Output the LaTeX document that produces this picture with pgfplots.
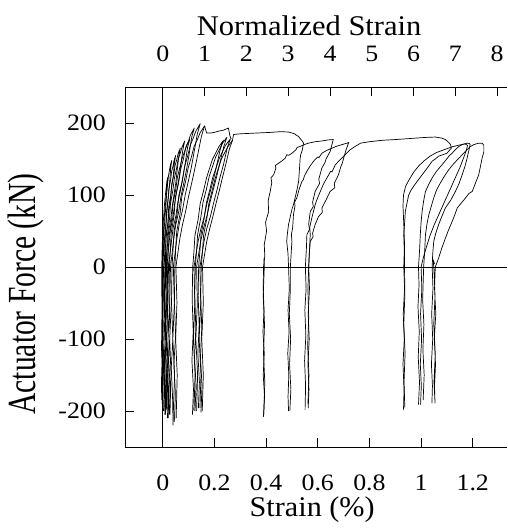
\documentclass[border=0pt]{standalone}
\usepackage{pgfplots}
\pgfplotsset{compat=1.18}
\usepackage{fontspec}
\setmainfont{Liberation Serif}
\pgfplotsset{ld/.style={black, line width=0.7pt, line join=round}}
\newcommand{\tfont}{\fontsize{23.5}{23.5}\selectfont}
\newcommand{\lfont}{\fontsize{28.5}{28.5}\selectfont}
\begin{document}
\begin{tikzpicture}
\path[use as bounding box] (-125pt,-82pt) rectangle (382pt,447pt);
\begin{axis}[
 scale only axis, width=382pt, height=360pt,
 xmin=-0.1461, xmax=1.3326, ymin=-250, ymax=250,
 axis x line*=bottom, axis y line*=left,
 every outer x axis line/.append style={-}, every outer y axis line/.append style={-},
 axis line style={line width=0.9pt, black},
 tick align=inside, major tick length=9pt, tick style={line width=0.9pt, black},
 xtick={0,0.2,0.4,0.6,0.8,1,1.2}, xticklabels={0,0.2,0.4,0.6,0.8,1,1.2},
 ytick={-200,-100,0,100,200}, yticklabels={-200,-100,0,100,200},
 xticklabel style={font=\tfont, anchor=base, inner sep=0pt, yshift=-43pt, xscale=1.1},
 yticklabel style={font=\tfont, anchor=east, inner sep=0pt, xshift=-19pt, xscale=1.1},
 xlabel={Strain (\%)}, ylabel={Actuator Force (kN)},
 xlabel style={font=\lfont, at={(axis description cs:0.49,-0.175)}, anchor=center, xscale=1.06},
 ylabel style={font=\fontsize{29.5}{29.5}\selectfont, at={(axis description cs:-0.259,0.425)}, anchor=center, yscale=1.35},
 clip=true,
]
\addplot[black, line width=0.8pt] coordinates {(-0.1461,0) (1.3326,0)};
\addplot[black, line width=0.8pt] coordinates {(0,-250) (0,250)};
% group A
\addplot[ld] coordinates {(-0.004,-185)(-0.001,-150)(-0.005,-110)(-0.002,-70)(-0.004,-30)(-0.004,0)(-0.002,31)(0.002,62)(0.007,88)(0.012,106)(0.016,119)(0.02,125)(0.018,116)(0.015,100)(0.010,75)(0.005,50)(0.0,25)(-0.003,0)(-0.001,-40)(-0.004,-80)(-0.002,-120)(-0.005,-160)(-0.004,-185)};
\addplot[ld] coordinates {(-0.002,-190)(0.001,-160)(-0.003,-120)(0.002,-80)(-0.001,-40)(0.0,0)(0.001,37)(0.007,74)(0.015,104)(0.022,126)(0.029,141)(0.035,148)(0.031,138)(0.027,118)(0.0195,89)(0.012,59)(0.005,30)(0.0,0)(0.002,-40)(-0.001,-90)(0.003,-140)(0.0,-190)};
\addplot[ld] coordinates {(0.003,-200)(0.006,-165)(0.002,-125)(0.007,-85)(0.004,-45)(0.003,0)(0.008,20)(0.007,39)(0.013,60)(0.015,78)(0.021,95)(0.024,109)(0.031,122)(0.034,132)(0.041,142)(0.043,147)(0.05,155)(0.045,144)(0.040,124)(0.034,110)(0.030,93)(0.023,75)(0.021,62)(0.013,45)(0.011,31)(0.005,0)(0.008,-50)(0.004,-100)(0.009,-150)(0.005,-200)};
\addplot[ld] coordinates {(0.008,-205)(0.011,-170)(0.006,-130)(0.012,-90)(0.008,-45)(0.009,0)(0.011,20)(0.013,41)(0.020,62)(0.023,83)(0.031,100)(0.035,116)(0.043,128)(0.047,140)(0.055,150)(0.059,157)(0.068,165)(0.062,153)(0.055,132)(0.051,118)(0.043,99)(0.036,82)(0.031,66)(0.023,50)(0.019,33)(0.011,0)(0.014,-50)(0.009,-100)(0.015,-155)(0.011,-205)};
\addplot[ld] coordinates {(0.012,-198)(0.016,-165)(0.011,-125)(0.017,-85)(0.013,-40)(0.013,0)(0.016,22)(0.018,44)(0.026,66)(0.030,88)(0.039,106)(0.045,123)(0.053,136)(0.059,149)(0.068,158)(0.074,166)(0.085,175)(0.078,163)(0.069,140)(0.063,123)(0.054,105)(0.046,88)(0.040,70)(0.030,52)(0.025,35)(0.016,0)(0.019,-50)(0.014,-100)(0.02,-150)(0.016,-198)};
\addplot[ld] coordinates {(0.018,-210)(0.022,-175)(0.016,-135)(0.021,-95)(0.017,-50)(0.019,0)(0.021,23)(0.025,45)(0.035,67)(0.040,89)(0.050,107)(0.057,125)(0.066,138)(0.075,151)(0.085,161)(0.092,169)(0.105,178)(0.096,166)(0.086,142)(0.078,125)(0.069,107)(0.058,89)(0.051,71)(0.040,54)(0.034,36)(0.022,0)(0.026,-55)(0.02,-105)(0.025,-160)(0.021,-210)};
\addplot[ld] coordinates {(0.025,-205)(0.029,-170)(0.023,-130)(0.028,-90)(0.024,-45)(0.026,0)(0.029,24)(0.033,48)(0.044,72)(0.049,97)(0.061,116)(0.069,135)(0.080,150)(0.088,164)(0.099,174)(0.107,183)(0.122,193)(0.112,180)(0.101,154)(0.092,135)(0.081,116)(0.070,97)(0.062,77)(0.050,58)(0.0425,39)(0.030,0)(0.033,-50)(0.027,-100)(0.032,-150)(0.028,-205)};
\addplot[ld] coordinates {(0.040,-220)(0.038,-180)(0.033,-140)(0.039,-100)(0.034,-50)(0.036,0)(0.040,25)(0.044,50)(0.056,75)(0.0625,100)(0.076,120)(0.0845,139)(0.097,155)(0.1065,169)(0.119,180)(0.1285,189)(0.145,199)(0.134,185)(0.121,159)(0.111,139)(0.099,119)(0.087,100)(0.077,80)(0.064,60)(0.055,40)(0.041,0)(0.045,-50)(0.039,-100)(0.046,-150)(0.042,-190)(0.045,-215)};
\addplot[ld] coordinates {(0.046,-212)(0.049,-175)(0.043,-135)(0.05,-95)(0.045,-50)(0.047,0)(0.050,25)(0.054,49)(0.067,74)(0.074,98)(0.088,118)(0.098,137)(0.111,153)(0.121,167)(0.134,177)(0.144,186)(0.162,196)(0.165,192)(0.17,186)(0.185,186)(0.2,187)(0.22,189)(0.235,190)(0.254,193)(0.258,186)(0.26,182)(0.265,178)};
\addplot[ld] coordinates {(0.162,196)(0.150,182)(0.136,157)(0.125,138)(0.113,118)(0.100,98)(0.089,78)(0.076,58)(0.066,39)(0.051,0)(0.055,-50)(0.05,-100)(0.056,-150)(0.052,-210)};
% group B
\addplot[ld] coordinates {(0.115,-205)(0.119,-170)(0.113,-130)(0.118,-90)(0.114,-45)(0.116,0)(0.121,22)(0.1246,44)(0.137,66)(0.145,88)(0.158,106)(0.169,123)(0.181,137)(0.193,150)(0.206,159)(0.217,167)(0.235,176)(0.223,164)(0.2086,141)(0.198,124)(0.1846,106)(0.171,88)(0.1606,70)(0.147,52)(0.1366,35)(0.121,0)(0.124,-50)(0.119,-100)(0.125,-150)(0.121,-200)};
\addplot[ld] coordinates {(0.125,-200)(0.129,-165)(0.123,-125)(0.128,-85)(0.124,-40)(0.126,0)(0.131,23)(0.135,45)(0.147,68)(0.156,90)(0.169,108)(0.180,126)(0.193,140)(0.205,153)(0.218,162)(0.2295,171)(0.248,180)(0.236,167)(0.221,144)(0.209,126)(0.196,108)(0.183,90)(0.172,72)(0.158,54)(0.147,36)(0.131,0)(0.134,-50)(0.128,-100)(0.135,-150)(0.131,-200)};
\addplot[ld] coordinates {(0.138,-196)(0.142,-160)(0.136,-120)(0.141,-80)(0.137,-40)(0.139,0)(0.144,23)(0.148,45)(0.160,67)(0.169,89)(0.182,107)(0.194,125)(0.207,138)(0.219,151)(0.231,160)(0.243,169)(0.262,178)(0.25,166)(0.235,142)(0.222,125)(0.21,107)(0.197,89)(0.185,71)(0.171,54)(0.16,36)(0.144,0)(0.147,-50)(0.141,-100)(0.148,-150)(0.144,-196)};
\addplot[ld] coordinates {(0.148,-202)(0.152,-165)(0.146,-125)(0.151,-85)(0.147,-40)(0.149,0)(0.154,22)(0.158,44)(0.170,66)(0.1785,88)(0.191,106)(0.203,123)(0.215,137)(0.227,150)(0.240,159)(0.252,167)(0.27,176)(0.274,184)(0.3,185)(0.33,185.5)(0.36,186)(0.39,186.5)(0.42,187)(0.455,188)(0.487,187.5)(0.51,185)(0.526,181)(0.535,177)(0.54,175)(0.545,172)(0.54,162)(0.534,156)(0.532,151)(0.53,140)(0.529,135)(0.526,119)(0.52,108)(0.515,100)(0.506,86.5)(0.5,80)(0.495,72)(0.487,59)(0.482,45)(0.48,35.6)(0.485,18)(0.487,0)(0.49,-30)(0.485,-60)(0.489,-90)(0.484,-120)(0.488,-150)(0.485,-180)(0.487,-200)};
\addplot[ld] coordinates {(0.27,176)(0.258,164)(0.243,141)(0.231,124)(0.219,106)(0.206,88)(0.194,70)(0.181,52)(0.17,35)(0.154,0)(0.157,-50)(0.151,-100)(0.157,-150)(0.153,-200)};
% group C
\addplot[ld] coordinates {(0.39,-208)(0.394,-180)(0.389,-150)(0.393,-120)(0.388,-90)(0.392,-60)(0.389,-30)(0.39,0)(0.395,15)(0.393,31)(0.402,50)(0.398,62)(0.41,77)(0.408,92)(0.416,105)(0.422,117)(0.419,124)(0.429,128)(0.438,137)(0.436,141)(0.448,144)(0.46,147)(0.474,151)(0.48,156)(0.487,155)(0.5,158)(0.516,163)(0.52,166)(0.532,167.5)(0.548,170)(0.564,172)(0.59,174)(0.616,175)(0.64,176.5)(0.66,177)(0.655,170)(0.648,160.5)(0.632,150)(0.628,145)(0.616,137.5)(0.604,122)(0.607,116)(0.59,105)(0.58,90)(0.583,84)(0.571,77)(0.565,60)(0.568,52)(0.558,45)(0.556,25)(0.552,0)(0.555,-30)(0.55,-60)(0.554,-95)(0.549,-130)(0.553,-165)(0.551,-198)};
\addplot[ld] coordinates {(0.392,12)(0.393,0)(0.389,-40)(0.394,-80)(0.39,-120)(0.395,-160)(0.391,-205)};
\addplot[ld] coordinates {(0.492,-200)(0.496,-170)(0.491,-135)(0.495,-100)(0.49,-65)(0.494,-30)(0.494,0)(0.497,18)(0.5,35.6)(0.498,45)(0.503,55)(0.506,72.6)(0.512,85)(0.51,90)(0.519,96)(0.528,108)(0.539,119)(0.544,121)(0.548,126)(0.558,133)(0.57,140)(0.584,147)(0.6,153)(0.605,152)(0.616,158)(0.635,162)(0.655,165)(0.675,168)(0.694,170)(0.713,172)(0.72,173)(0.714,167)(0.71,163)(0.7,151)(0.695,144)(0.69,140)(0.68,128)(0.664,116)(0.666,110)(0.648,105)(0.632,93)(0.616,82)(0.618,76)(0.603,70)(0.59,59)(0.58,47)(0.582,42)(0.571,35.6)(0.567,18)(0.565,0)(0.568,-30)(0.563,-65)(0.567,-100)(0.562,-135)(0.566,-170)(0.563,-196)};
\addplot[ld] coordinates {(0.562,-190)(0.566,-150)(0.561,-110)(0.565,-70)(0.562,-30)(0.565,0)(0.568,22)(0.571,45)(0.569,55)(0.577,68)(0.59,86.5)(0.595,92)(0.61,105)(0.622,115)(0.636,124)(0.65,133)(0.655,132)(0.668,142)(0.684,148)(0.7,153.6)(0.712,158)(0.726,163)(0.745,167.5)(0.766,172)(0.8,174)(0.85,176)(0.9,177)(0.94,178)(0.978,179)(1.02,180)(1.055,180.5)(1.08,179)(1.094,177)(1.107,173)(1.114,170)(1.117,165)(1.1,158)(1.085,156)(1.068,154)(1.055,150)(1.043,147)(1.025,138)(1.004,128)(0.985,119)(0.971,112)(0.96,106)(0.952,100)(0.945,88)(0.939,77)(0.936,60)(0.933,45)(0.935,22)(0.933,0)(0.936,-30)(0.931,-65)(0.935,-100)(0.93,-135)(0.934,-170)(0.932,-198)};
% group D
\addplot[ld] coordinates {(0.937,-195)(0.934,-160)(0.938,-120)(0.933,-80)(0.937,-40)(0.936,0)(0.936,30)(0.933,60)(0.93,85)(0.932,100)(0.94,112)(0.955,122)(0.972,132)(0.99,140)(1.01,147)(1.035,154)(1.06,159)(1.09,163)(1.12,167)(1.15,169.5)(1.17,171)(1.18,169)(1.175,162)(1.165,152)(1.15,138)(1.13,122)(1.11,106)(1.09,90)(1.07,74)(1.05,58)(1.033,42)(1.02,27)(1.008,12)(1.0,0)(1.003,-30)(0.998,-65)(1.002,-100)(0.997,-135)(1.001,-165)(0.998,-191)};
\addplot[ld] coordinates {(0.99,-191)(0.994,-160)(0.989,-125)(0.993,-90)(0.988,-55)(0.992,-25)(0.99,0)(0.994,22)(0.997,45)(1.0,62)(1.004,77)(1.01,92)(1.017,105)(1.03,115)(1.043,124)(1.06,133)(1.081,142)(1.095,148)(1.107,153.6)(1.12,158)(1.133,163)(1.145,167)(1.159,170)(1.178,172)(1.187,171.5)(1.19,170)(1.185,162)(1.178,151)(1.17,140)(1.159,128)(1.147,116)(1.133,105)(1.115,93)(1.094,82)(1.08,70)(1.068,59)(1.057,47)(1.049,35.6)(1.045,18)(1.043,0)(1.046,-30)(1.041,-65)(1.045,-100)(1.04,-135)(1.044,-165)(1.042,-189)};
\addplot[ld] coordinates {(1.008,-185)(1.012,-150)(1.007,-115)(1.011,-80)(1.006,-45)(1.01,0)(1.014,22)(1.017,45)(1.023,60)(1.03,72.6)(1.04,85)(1.049,96)(1.06,107)(1.075,117)(1.09,126)(1.107,135)(1.125,143)(1.146,151)(1.162,157)(1.178,163)(1.19,167)(1.204,170)(1.223,172)(1.236,172)(1.243,169)(1.243,160)(1.236,151)(1.23,140)(1.223,128)(1.21,116)(1.198,105)(1.185,102)(1.17,95)(1.14,82)(1.13,72)(1.12,63)(1.107,52)(1.094,40)(1.08,26)(1.068,12.5)(1.055,0)(1.052,-30)(1.057,-65)(1.051,-100)(1.056,-135)(1.052,-165)(1.054,-189)(1.05,-160)(1.055,-120)(1.049,-80)(1.054,-40)(1.05,-5)(1.047,10)(1.052,4)};
\end{axis}
\begin{axis}[
 scale only axis, width=382pt, height=360pt,
 xmin=-0.9028, xmax=8.2346, ymin=0, ymax=1,
 axis x line*=top, axis y line=none,
 every outer x axis line/.append style={-},
 axis line style={line width=0.9pt, black},
 tick align=inside, major tick length=9pt, tick style={line width=0.9pt, black},
 xtick={0,1,2,3,4,5,6,7,8}, xticklabels={0,1,2,3,4,5,6,7,8},
 xticklabel style={font=\tfont, anchor=base, inner sep=0pt, yshift=25.3pt, xscale=1.1},
 xlabel={Normalized Strain},
 xlabel style={font=\lfont, at={(axis description cs:0.482,1.169)}, anchor=center, xscale=1.07},
]
\end{axis}
\end{tikzpicture}
\end{document}
